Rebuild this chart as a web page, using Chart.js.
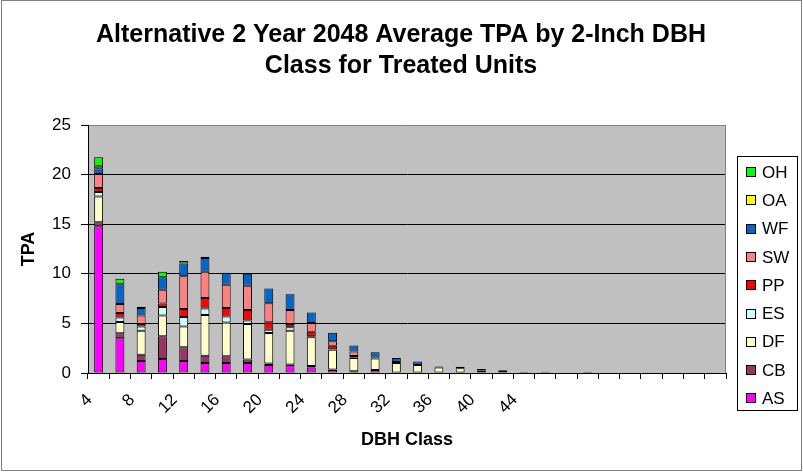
<!DOCTYPE html>
<html>

<head>
    <title>Alternative 2 Year 2048 Average TPA</title>
    <script src="https://cdn.jsdelivr.net/npm/chart.js"></script>
    <style>
        body { margin: 0; background: #fff; }
    </style>
</head>

<body>
    <canvas id="chart" width="803" height="472"></canvas>
    <script>
        // DBH classes (2-inch) and the labels Excel shows on the axis
        var dbhClass = ['4', '6', '8', '10', '12', '14', '16', '18', '20', '22', '24', '26', '28', '30', '32',
            '34', '36', '38', '40', '42', '44', '46', '48', '50', '52', '54', '56', '58', '60', '62'];
        var shownTicks = ['4', '8', '12', '16', '20', '24', '28', '32', '36', '40', '44'];

        // TPA by species, bottom of the stack first
        var AS = [14.8, 3.5, 1.2, 1.4, 1.2, 1.0, 1.0, 1.0, 0.8, 0.8, 0.55, 0.3, 0.17, 0.3, 0, 0, 0, 0, 0, 0, 0, 0, 0, 0, 0, 0, 0, 0, 0, 0];
        var CB = [0.4, 0.5, 0.65, 2.3, 1.4, 0.75, 0.7, 0.35, 0.17, 0.05, 0.15, 0.05, 0, 0, 0, 0, 0, 0, 0, 0, 0, 0, 0, 0, 0, 0, 0, 0, 0, 0];
        var DF = [2.6, 1.15, 2.4, 2.1, 2.1, 4.1, 3.4, 3.6, 3.05, 3.4, 2.9, 2.0, 1.35, 1.15, 1.0, 0.8, 0.55, 0.47, 0.25, 0.2, 0.1, 0.1, 0, 0.1, 0, 0, 0, 0, 0, 0];
        var ES = [0.45, 0.45, 0.45, 0.85, 0.95, 0.65, 0.6, 0.35, 0.35, 0.35, 0.1, 0.05, 0.05, 0, 0, 0, 0, 0, 0, 0, 0, 0, 0, 0, 0, 0, 0, 0, 0, 0];
        var PP = [0.4, 0.45, 0.25, 0.35, 0.8, 1.05, 0.85, 1.05, 0.75, 0.35, 0.45, 0.35, 0.15, 0.1, 0.1, 0, 0, 0, 0, 0, 0, 0, 0, 0, 0, 0, 0, 0, 0, 0];
        var SW = [1.4, 0.9, 0.85, 1.4, 3.3, 2.65, 2.35, 2.45, 1.9, 1.4, 0.9, 0.45, 0.45, 0, 0, 0, 0, 0, 0, 0, 0, 0, 0, 0, 0, 0, 0, 0, 0, 0];
        var WF = [0.6, 2.0, 0.75, 1.25, 1.3, 1.4, 1.2, 1.2, 1.5, 1.6, 1.05, 0.85, 0.6, 0.55, 0.4, 0.35, 0.1, 0.15, 0.15, 0.07, 0.03, 0.03, 0, 0.03, 0, 0, 0, 0, 0, 0];
        var OA = [0.25, 0.05, 0, 0, 0, 0, 0, 0, 0, 0, 0, 0, 0, 0, 0, 0, 0, 0, 0, 0, 0, 0, 0, 0, 0, 0, 0, 0, 0, 0];
        var OH = [0.85, 0.5, 0.12, 0.55, 0.25, 0.12, 0, 0, 0, 0, 0, 0, 0, 0, 0, 0, 0, 0, 0, 0, 0, 0, 0, 0, 0, 0, 0, 0, 0, 0];

        var speciesNames = ['AS', 'CB', 'DF', 'ES', 'PP', 'SW', 'WF', 'OA', 'OH'];
        var speciesData = [AS, CB, DF, ES, PP, SW, WF, OA, OH];
        var speciesColors = ['#FF00FF', '#993366', '#FFFFCC', '#CCFFFF', '#FF0000', '#FF8080', '#0066CC', '#FFFF00', '#00FF00'];

        var FONT = "'Liberation Sans', Arial, sans-serif";

        var datasets = speciesNames.map(function (name, i) {
            return {
                label: name,
                data: speciesData[i],
                backgroundColor: speciesColors[i],
                borderColor: '#000',
                borderWidth: 1,
                borderSkipped: false,
                categoryPercentage: 1.0,
                barPercentage: 0.42
            };
        });

        // gray plot area + outer frame
        var plotFrame = {
            id: 'plotFrame',
            beforeDraw: function (chart) {
                var ctx = chart.ctx, a = chart.chartArea;
                ctx.save();
                ctx.fillStyle = '#fff';
                ctx.fillRect(0, 0, chart.width, chart.height);
                ctx.fillStyle = '#C0C0C0';
                ctx.fillRect(a.left, a.top, a.right - a.left, a.bottom - a.top);
                ctx.strokeStyle = '#808080';
                ctx.lineWidth = 1;
                ctx.strokeRect(1.5, 0.5, chart.width - 3, chart.height - 2);
                ctx.restore();
            },
            afterDraw: function (chart) {
                var ctx = chart.ctx, a = chart.chartArea;
                ctx.save();
                ctx.strokeStyle = '#808080';
                ctx.beginPath();
                ctx.moveTo(Math.round(a.right) - 0.5, a.top);
                ctx.lineTo(Math.round(a.right) - 0.5, a.bottom);
                ctx.stroke();

                // title
                ctx.fillStyle = '#000';
                ctx.font = 'bold 25px ' + FONT;
                ctx.textAlign = 'center';
                ctx.textBaseline = 'alphabetic';
                ctx.fillText('Alternative 2 Year 2048 Average TPA by 2-Inch DBH', 401, 42);
                ctx.fillText('Class for Treated Units', 401, 73);

                // legend, top item is the last series
                ctx.fillStyle = '#fff';
                ctx.fillRect(737.5, 156.5, 60, 254);
                ctx.strokeStyle = '#000';
                ctx.strokeRect(737.5, 156.5, 60, 254);
                ctx.font = '17px ' + FONT;
                ctx.textAlign = 'left';
                ctx.textBaseline = 'middle';
                var n = chart.data.datasets.length;
                for (var k = 0; k < n; k++) {
                    var ds = chart.data.datasets[n - 1 - k];
                    var y = 172 + k * 28.3;
                    ctx.fillStyle = ds.backgroundColor;
                    ctx.fillRect(746.5, Math.round(y) - 4.5, 9, 9);
                    ctx.strokeRect(746.5, Math.round(y) - 4.5, 9, 9);
                    ctx.fillStyle = '#000';
                    ctx.fillText(ds.label, 762, y + 1);
                }
                ctx.restore();
            }
        };

        new Chart(document.getElementById('chart'), {
            type: 'bar',
            data: { labels: dbhClass, datasets: datasets },
            plugins: [plotFrame],
            options: {
                responsive: false,
                devicePixelRatio: 1,
                animation: false,
                layout: { padding: { top: 125, right: 77, left: 0, bottom: 0 } },
                plugins: {
                    legend: { display: false },
                    title: { display: false },
                    tooltip: { enabled: false }
                },
                scales: {
                    x: {
                        stacked: true,
                        grid: { drawOnChartArea: false, offset: true, tickColor: '#000', tickLength: 6 },
                        border: { color: '#000' },
                        ticks: {
                            autoSkip: false,
                            maxRotation: 45,
                            minRotation: 45,
                            padding: 11,
                            labelOffset: -9,
                            color: '#000',
                            font: { family: FONT, size: 17 },
                            callback: function (val, i) {
                                var lab = dbhClass[i];
                                return shownTicks.indexOf(lab) >= 0 ? lab : '';
                            }
                        },
                        title: {
                            display: true,
                            text: 'DBH Class',
                            color: '#000',
                            font: { family: FONT, size: 18, weight: 'bold' },
                            padding: { top: 0, bottom: 21 }
                        },
                        afterFit: function (scale) { scale.height = 99; }
                    },
                    y: {
                        stacked: true,
                        min: 0,
                        max: 25,
                        grid: {
                            color: function (c) { return c.tick && c.tick.value === 25 ? '#808080' : '#000'; },
                            tickColor: '#000',
                            tickLength: 7
                        },
                        border: { color: '#000' },
                        ticks: { stepSize: 5, color: '#000', padding: 10, font: { family: FONT, size: 17 } },
                        title: {
                            display: true,
                            text: 'TPA',
                            color: '#000',
                            font: { family: FONT, size: 18, weight: 'bold' },
                            padding: { top: 18, bottom: 0 }
                        },
                        afterFit: function (scale) { scale.width = 88; }
                    }
                }
            }
        });
    </script>
</body>

</html>
